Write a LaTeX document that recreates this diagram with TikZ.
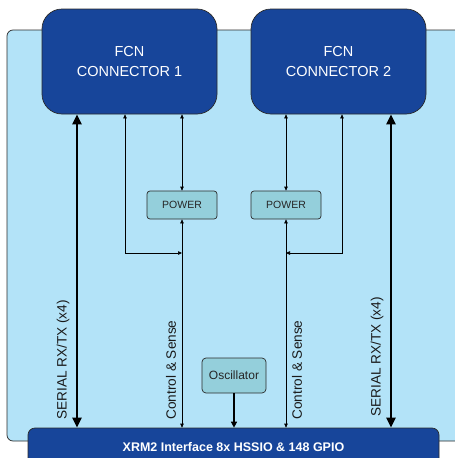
\documentclass[tikz,border=0pt]{standalone}
\usepackage{fontspec}
\setmainfont{Liberation Sans}
\usetikzlibrary{arrows.meta}
\definecolor{panel}{HTML}{B3E3F8}
\definecolor{conn}{HTML}{17459A}
\definecolor{pwr}{HTML}{94CFDB}
\definecolor{edge}{HTML}{2B2B2B}
\tikzset{
  connbox/.style={draw=edge, fill=conn, rounded corners=20, text=white, align=center,
    minimum width=175, minimum height=105, font=\fontsize{14.5}{20}\selectfont, line width=0.7},
  pwrbox/.style={draw=edge, fill=pwr, rounded corners=3, text=black!85,
    minimum width=70, minimum height=28, font=\fontsize{10.5}{12}\selectfont, line width=0.7},
  oscbox/.style={draw=edge, fill=pwr, rounded corners=4, text=black!85,
    minimum width=64, minimum height=35, font=\fontsize{12}{13}\selectfont, line width=0.7},
  xrmbox/.style={draw=edge, fill=conn, rounded corners=7, text=white,
    minimum width=411, minimum height=38, font=\bfseries\fontsize{12.5}{14}\selectfont, line width=0.7},
  thinarrow/.style={line width=0.7, {Triangle[length=4,width=3.5]}-{Triangle[length=4,width=3.5]}},
  serialarrow/.style={line width=2.6, {Triangle[length=10,width=9]}-{Triangle[length=10,width=9]}},
  oscarrow/.style={line width=1.6, -{Triangle[length=6,width=6]}},
  vlabel/.style={rotate=90, font=\fontsize{13.6}{15}\selectfont, text=black!90}
}
\begin{document}
\begin{tikzpicture}[x=1pt,y=-1pt]
\useasboundingbox (0,0) rectangle (455,458);
\clip (0,0) rectangle (455,458);
\fill[white] (0,0) rectangle (455,458);
\draw[fill=panel, draw=edge, line width=0.7, rounded corners=6] (7,30) rectangle (475,441);

\node[connbox] (c1) at (129.5,61.5) {FCN\\CONNECTOR 1};
\node[connbox] (c2) at (338.5,61.5) {FCN\\CONNECTOR 2};
\node[pwrbox] (p1) at (182,205) {POWER};
\node[pwrbox] (p2) at (286,205) {POWER};
\node[oscbox] (osc) at (234,375.5) {Oscillator};
\node[xrmbox] (x) at (233.5,447) {XRM2 Interface 8x HSSIO \& 148 GPIO};

\coordinate (sL) at (77,0);
\coordinate (sR) at (391,0);
\coordinate (aL) at (125,0);
\coordinate (aR) at (342,0);
\coordinate (jL) at (182,253);
\coordinate (jR) at (286,253);

\draw[serialarrow] (x.north -| sL) -- (c1.south -| sL);
\draw[serialarrow] (x.north -| sR) -- (c2.south -| sR);

\draw[thinarrow] (c1.south -| p1.north) -- (p1.north);
\draw[thinarrow] (p1.south) -- (x.north -| p1.south);
\draw[thinarrow] (c1.south -| aL) |- (jL);

\draw[thinarrow] (c2.south -| p2.north) -- (p2.north);
\draw[thinarrow] (p2.south) -- (x.north -| p2.south);
\draw[thinarrow] (c2.south -| aR) |- (jR);

\draw[oscarrow] (osc.south) -- (x.north -| osc.south);

\node[vlabel] (lsL) at (63,360) {SERIAL RX/TX (x4)};
\node[vlabel] (lsR) at (377,357) {SERIAL RX/TX (x4)};
\node[vlabel] (lcL) at (171,370) {Control \& Sense};
\node[vlabel] (lcR) at (297,370) {Control \& Sense};
\end{tikzpicture}
\end{document}
